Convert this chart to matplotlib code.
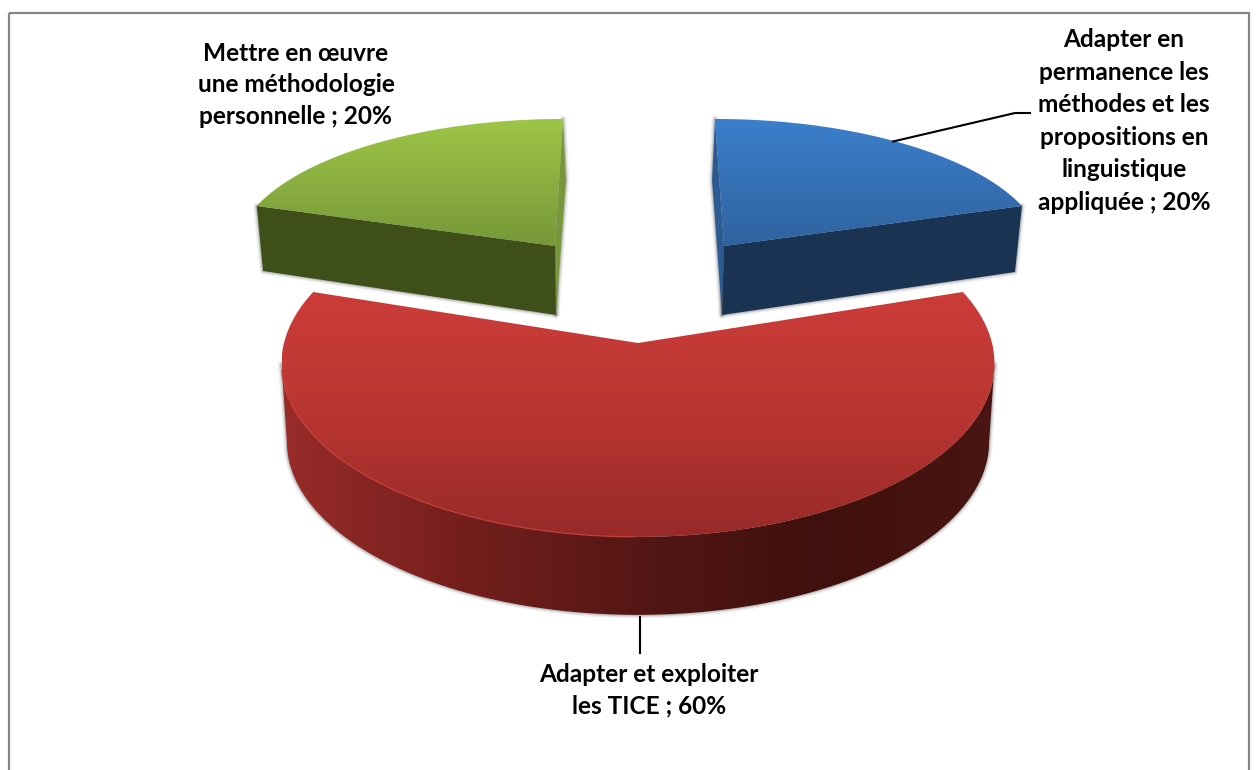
#!/usr/bin/env python3
import matplotlib
matplotlib.use('Agg')
import matplotlib.pyplot as plt
from matplotlib.colors import LinearSegmentedColormap
from matplotlib.patches import Polygon, Rectangle
import numpy as np

categories = ['Adapter en\npermanence les\nméthodes et les\npropositions en\nlinguistique\nappliquée',
              'Adapter et exploiter\nles TICE',
              'Mettre en œuvre\nune méthodologie\npersonnelle']
shares = [20, 60, 20]

# perspective settings of each slice: apex, radii, tilt, skew, thickness
blue_geo = dict(cx=724, cy=246, R=319, S=130.6, k=0.028, skew=-9.25, depth=68)
red_geo = dict(cx=638, cy=343, R=354, S=171, k=0.118, skew=0, depth=78)
green_geo = dict(cx=555, cy=246, R=319, S=130.6, k=0.028, skew=8.2, depth=68)


def project(theta, geo, dy=0, shrink=1.0):
    # theta in degrees, clockwise from the top of the pie
    u = np.sin(np.radians(theta))
    v = np.cos(np.radians(theta))
    w = 1 + geo['k'] * v
    x = geo['cx'] + (geo['R'] * shrink * u + geo['skew'] * v) / w
    y = geo['cy'] - geo['S'] * v / w + dy
    return np.column_stack([x, y])


def gradient_fill(ax, points, colors, zorder, horizontal=False):
    poly = Polygon(points, closed=True, facecolor='none', edgecolor='none', zorder=zorder)
    ax.add_patch(poly)
    cmap = LinearSegmentedColormap.from_list('g', colors)
    ramp = np.linspace(0, 1, 256)
    ramp = ramp.reshape(1, -1) if horizontal else ramp.reshape(-1, 1)
    x0, y0 = points.min(axis=0)
    x1, y1 = points.max(axis=0)
    im = ax.imshow(ramp, cmap=cmap, extent=(x0, x1, y1, y0), aspect='auto',
                   interpolation='bilinear', zorder=zorder)
    im.set_clip_path(poly)


def soft_shadow(ax, points, zorder):
    for lw, alpha in [(5, 0.08), (3, 0.12), (1.5, 0.18)]:
        ax.add_patch(Polygon(points, closed=True, facecolor='none', edgecolor='#404040',
                             linewidth=lw, alpha=alpha, joinstyle='round', zorder=zorder))


edges = np.cumsum([0] + shares) / sum(shares) * 360

fig = plt.figure(figsize=(12.59, 7.7), dpi=100)
ax = fig.add_axes([0, 0, 1, 1])

# blue slice
arc = np.linspace(edges[0], edges[1], 80)
top = project(arc, blue_geo)
apex = np.array([[blue_geo['cx'], blue_geo['cy']]])
apex_low = np.array([[blue_geo['cx'] - 2, blue_geo['cy'] + 69]])
side = np.vstack([apex, top[-1:], [[1015, 272]], apex_low])
back = np.vstack([apex, top[:1], [[712, 180]], apex_low])
soft_shadow(ax, side, 2)
soft_shadow(ax, back, 2)
ax.add_patch(Polygon(back, closed=True, facecolor='#2c5a91', edgecolor='none', zorder=3))
ax.add_patch(Polygon(side, closed=True, facecolor='#1a3352', edgecolor='none', zorder=3))
gradient_fill(ax, np.vstack([apex, top]), ['#3c7fcc', '#2f639f'], 4)

# green slice
arc = np.linspace(edges[2], edges[3], 80)
top = project(arc, green_geo)
apex = np.array([[green_geo['cx'], green_geo['cy']]])
apex_low = np.array([[green_geo['cx'] + 1, green_geo['cy'] + 69]])
side = np.vstack([apex, top[:1], [[263, 271]], apex_low])
back = np.vstack([apex, top[-1:], [[566, 180]], apex_low])
soft_shadow(ax, side, 2)
soft_shadow(ax, back, 2)
ax.add_patch(Polygon(back, closed=True, facecolor='#76983a', edgecolor='none', zorder=3))
ax.add_patch(Polygon(side, closed=True, facecolor='#3f4f19', edgecolor='none', zorder=3))
gradient_fill(ax, np.vstack([top, apex]), ['#9ec646', '#76983a'], 4)

# red slice, drawn last because it sits in front
arc = np.linspace(edges[1], edges[2], 200)
top = project(arc, red_geo)
low = project(arc, red_geo, red_geo['depth'], shrink=0.985)
# the wall only shows between the widest points of the top face
right_i = top[:, 0].argmax()
left_i = top[:, 0].argmin()
side = np.vstack([top[right_i:left_i + 1], low[right_i:left_i + 1][::-1]])
soft_shadow(ax, side, 5)
gradient_fill(ax, side, ['#982c29', '#751f1d', '#541715', '#3f100d', '#4a1512'], 6, horizontal=True)
apex = np.array([[red_geo['cx'], red_geo['cy']]])
face = np.vstack([apex, top])
gradient_fill(ax, face, ['#cc3c39', '#b93632', '#982a28'], 7)
rim = top[(top[:, 0] < red_geo['cx']) & (top[:, 1] > 370)]
ax.plot(rim[:, 0], rim[:, 1], color='#c8403a', lw=1, alpha=0.8, zorder=8)

# leader lines
ax.plot([893, 1015, 1030], [141.5, 113, 113], color='black', lw=1.5, zorder=9)
ax.plot([640, 640], [617, 653], color='black', lw=1.5, zorder=9)

# labels
label_pos = [(1124, 121), (649, 690), (296, 85)]
label_spacing = [1.5, 1.42, 1.47]
for cat, share, (x, y), spacing in zip(categories, shares, label_pos, label_spacing):
    ax.text(x, y, f'{cat} ; {share}%', ha='center', va='center', multialignment='center',
            fontsize=17.6, fontweight='bold', family='Lato', linespacing=spacing, color='black', zorder=10)

# chart frame, the bottom edge falls outside the picture
ax.add_patch(Rectangle((9, 13), 1240, 800, facecolor='none', edgecolor='#868686', lw=1.6, zorder=1))

ax.set_xlim(0, 1259)
ax.set_ylim(770, 0)
ax.axis('off')
fig.savefig('out.png', dpi=100)
